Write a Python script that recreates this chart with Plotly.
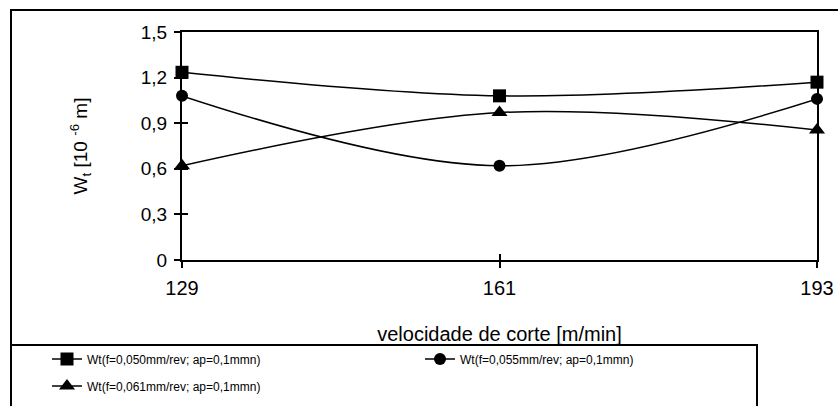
import plotly.graph_objects as go

# ---- data ----
velocidade = [129, 161, 193]
wt_050 = [1.235, 1.08, 1.17]
wt_055 = [1.08, 0.62, 1.06]
wt_061 = [0.62, 0.97, 0.855]
names = ["Wt(f=0,050mm/rev; ap=0,1mmn)",
         "Wt(f=0,055mm/rev; ap=0,1mmn)",
         "Wt(f=0,061mm/rev; ap=0,1mmn)"]
y_tickvals = [0, 0.3, 0.6, 0.9, 1.2, 1.5]
y_ticktext = ["0", "0,3", "0,6", "0,9", "1,2", "1,5"]
x_tickvals = [129, 161, 193]
x_ticktext = ["129", "161", "193"]

W, H = 838, 406
L, R, T, B = 182, 21, 32, 146
PW, PH = W - L - R, H - T - B

def px(sx):
    return (sx - L) / PW

def py(sy):
    return (H - B - sy) / PH

FONT = "Liberation Sans, Arial, sans-serif"

fig = go.Figure()
for vals, nm, sym, sz, lg in [(wt_050, names[0], "square", 13, "legend"),
                              (wt_055, names[1], "circle", 12, "legend"),
                              (wt_061, names[2], "triangle-up", 14, "legend2")]:
    fig.add_trace(go.Scatter(
        x=velocidade, y=vals, name=nm, mode="lines+markers",
        line=dict(color="black", width=1.5, shape="spline"),
        marker=dict(symbol=sym, size=sz, color="black"),
        cliponaxis=False, legend=lg,
    ))

axis_common = dict(showgrid=False, zeroline=False, color="black",
                   linecolor="black", tickcolor="black",
                   tickwidth=2, ticklen=6)

legend_common = dict(orientation="h", xanchor="left", yanchor="middle",
                     font=dict(size=12, family=FONT),
                     entrywidth=328, entrywidthmode="pixels",
                     bgcolor="rgba(0,0,0,0)", borderwidth=0)

fig.update_layout(
    width=W, height=H,
    margin=dict(l=L, r=R, t=T, b=B, autoexpand=False),
    paper_bgcolor="white", plot_bgcolor="white",
    font=dict(family=FONT, color="black", size=19),
    showlegend=True,
    xaxis=dict(range=[129, 193], tickvals=x_tickvals, ticktext=x_ticktext,
               ticks="outside", showline=True, mirror=True, linewidth=2,
               ticklabelstandoff=3, tickfont=dict(size=20),
               title=dict(text="velocidade de corte [m/min]",
                          font=dict(size=20), standoff=29),
               **axis_common),
    yaxis=dict(range=[0, 1.5], tickvals=y_tickvals, ticktext=y_ticktext,
               ticks="outside", showline=True, mirror=True, linewidth=2,
               ticklabelstandoff=3, tickfont=dict(size=19),
               title=dict(text="W<sub>t</sub> [10 <sup>-6</sup> m]",
                          font=dict(size=19), standoff=48),
               **axis_common),
    xaxis2=dict(range=[129, 193], tickvals=x_tickvals, ticks="inside",
                showticklabels=False, showline=False, overlaying="x",
                anchor="y", **axis_common),
    yaxis2=dict(range=[0, 1.5], tickvals=y_tickvals, ticks="inside",
                showticklabels=False, showline=False, overlaying="y",
                anchor="x", side="left", **axis_common),
    legend=dict(x=px(47), y=py(359), **legend_common),
    legend2=dict(x=px(47), y=py(386), **legend_common),
    shapes=[
        dict(type="rect", xref="paper", yref="paper",
             x0=px(11), x1=px(870), y0=py(10), y1=py(440),
             line=dict(color="black", width=2), layer="below"),
        dict(type="rect", xref="paper", yref="paper",
             x0=px(11), x1=px(757), y0=py(345), y1=py(440),
             line=dict(color="black", width=2), layer="below"),
    ],
)
fig.add_trace(go.Scatter(x=[None], y=[None], xaxis="x2", yaxis="y2",
                         showlegend=False, hoverinfo="skip"))

fig.write_html(
    "out.html",
    config={"displayModeBar": False},
    post_script="document.body.style.margin='0px';"
                "document.body.style.overflow='hidden';",
)
